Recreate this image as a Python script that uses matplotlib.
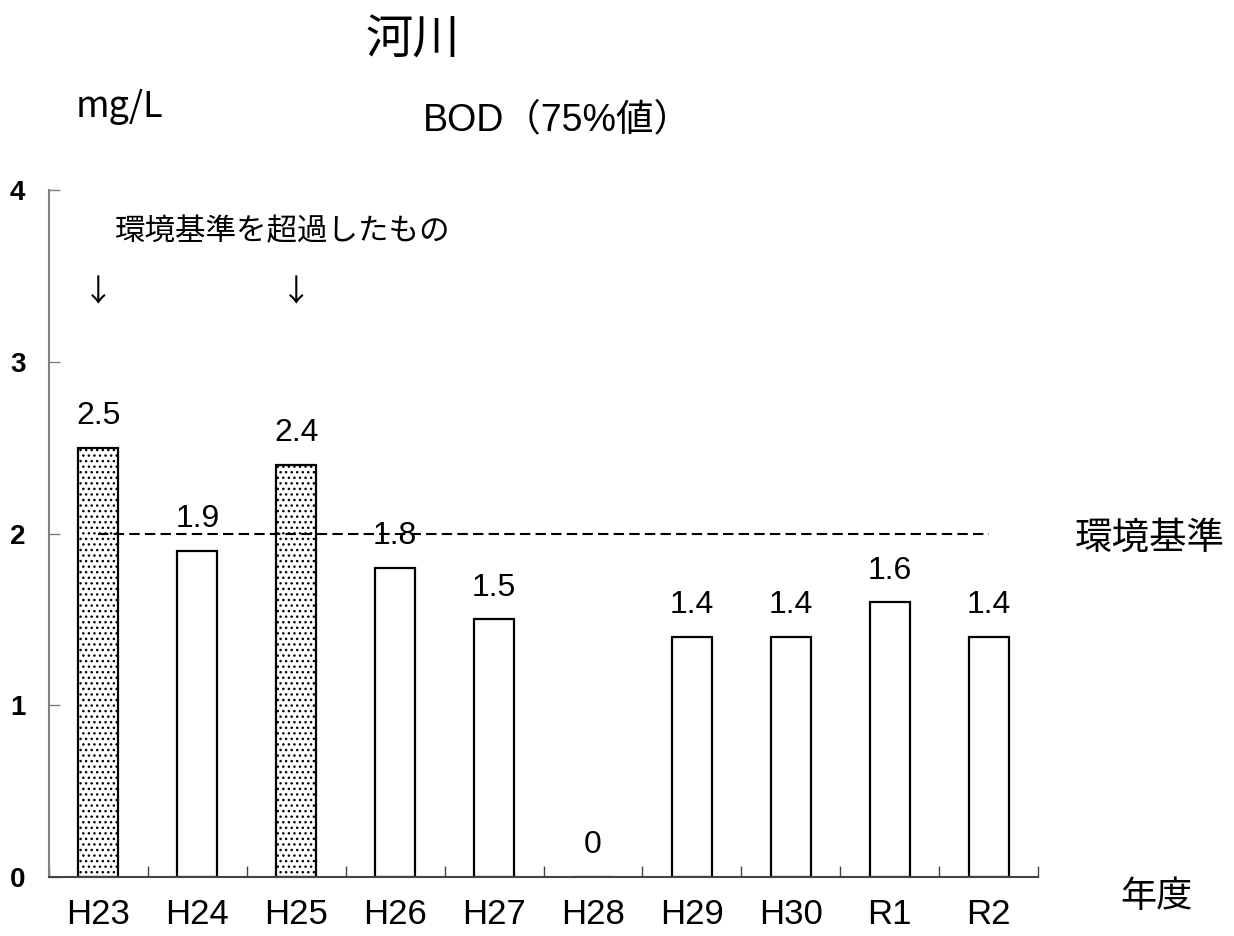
import numpy as np
import matplotlib
matplotlib.use("Agg")
import matplotlib.pyplot as plt

plt.rcParams['font.family'] = ['Liberation Sans', 'Noto Sans CJK JP', 'DejaVu Sans']
plt.rcParams['hatch.linewidth'] = 1.0

# データ
years = ["H23", "H24", "H25", "H26", "H27", "H28", "H29", "H30", "R1", "R2"]
bod = [2.5, 1.9, 2.4, 1.8, 1.5, 0, 1.4, 1.4, 1.6, 1.4]
exceeded = [True, False, True, False, False, False, False, False, False, False]
standard = 2.0
yticks = [0, 1, 2, 3, 4]


def main():
    fig = plt.figure(figsize=(12.34, 9.36), dpi=100)
    ax = fig.add_axes([0.0397, 0.0630, 0.8015, 0.7340])

    x = np.arange(len(years))
    for i in range(len(years)):
        ax.bar(x[i], bod[i], width=0.405, color="white", edgecolor="black",
               linewidth=1.6, hatch="..." if exceeded[i] else None, zorder=2)
        ax.annotate(f"{bod[i]:g}", (x[i], bod[i]), xytext=(0, 12),
                    textcoords="offset points", ha="center", va="bottom",
                    fontsize=23, zorder=4)
        if exceeded[i]:
            ax.text(x[i], 3.40, "↓", ha="center", va="center", fontsize=22,
                    family=["Noto Sans CJK JP", "DejaVu Sans"])

    # 環境基準の線
    ax.plot([x[0], x[-1]], [standard, standard], color="black",
            linestyle=(0, (5, 2.5)), linewidth=1.5, zorder=3)

    ax.set_xlim(-0.5, len(years) - 0.5)
    ax.set_ylim(0, 4)
    ax.set_xticks(x)
    ax.set_xticks(np.arange(-0.5, len(years), 1.0), minor=True)
    ax.tick_params(axis="x", which="major", length=0, pad=15)
    ax.tick_params(axis="x", which="minor", direction="in", length=8,
                   color="#444444", width=1)
    ax.tick_params(axis="y", direction="in", length=8, color="#808080",
                   width=1, pad=17)
    ax.set_yticks(yticks)
    ax.set_yticklabels([str(v) for v in yticks], fontsize=20,
                       fontweight="bold")
    ax.set_xticklabels(years, fontsize=25)

    for s in ["top", "right"]:
        ax.spines[s].set_visible(False)
    ax.spines["left"].set_color("#808080")
    ax.spines["left"].set_linewidth(1.5)
    ax.spines["bottom"].set_color("#444444")
    ax.spines["bottom"].set_linewidth(1.5)

    fig.text(0.3347, 0.957, "河川", ha="center", va="center", fontsize=34,
             family=["Noto Sans CJK JP"])
    fig.text(0.0964, 0.875, "mg/L", ha="center", va="baseline", fontsize=26,
             family=["Noto Sans CJK JP"])
    fig.text(0.452, 0.861, "BOD（75%値）", ha="center", va="baseline",
             fontsize=27)
    fig.text(0.0932, 0.752, "環境基準を超過したもの", ha="left", va="center",
             fontsize=22, family=["Noto Sans CJK JP"])
    fig.text(0.932, 0.425, "環境基準", ha="center", va="center", fontsize=27,
             family=["Noto Sans CJK JP"])
    fig.text(0.937, 0.042, "年度", ha="center", va="center", fontsize=26,
             family=["Noto Sans CJK JP"])

    fig.savefig("out.png", dpi=100)


if __name__ == '__main__':
    main()
